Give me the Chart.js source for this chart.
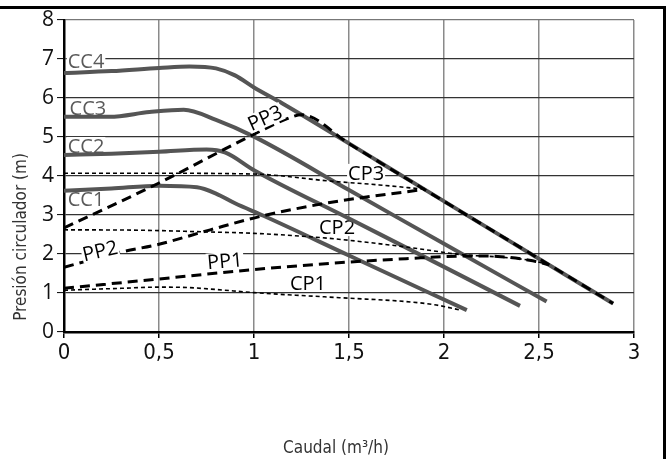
<!DOCTYPE html>
<html>
<head>
<meta charset="utf-8">
<script src="https://cdn.jsdelivr.net/npm/chart.js@4.4.1/dist/chart.umd.min.js"></script>
<style>
  html, body { margin: 0; padding: 0; background: #fff; overflow: hidden; }
  #wrap { position: relative; width: 671px; height: 459px; }
  #frame { position: absolute; left: -5px; top: 6px; width: 671px; height: 470px;
           box-sizing: border-box; border-top: 3px solid #000; border-right: 3px solid #000; pointer-events: none; }
  canvas { position: absolute; left: 0; top: 0; }
</style>
</head>
<body>
<div id="wrap">
  <canvas id="c" width="671" height="459"></canvas>
  <div id="frame"></div>
</div>
<script>
// ---- data (caudal m3/h, presión m) ----
const xTicks = [0, 0.5, 1, 1.5, 2, 2.5, 3];
const yTicks = [0, 1, 2, 3, 4, 5, 6, 7, 8];

const cc4X = [0, 0.25, 0.5, 0.66, 0.8, 0.9, 1.0, 1.15, 1.66, 2.2, 2.89];
const cc4Y = [6.64, 6.69, 6.77, 6.81, 6.76, 6.58, 6.27, 5.86, 4.36, 2.76, 0.73];
const cc3X = [0, 0.24, 0.45, 0.63, 0.8, 1.0, 1.5, 2.0, 2.54];
const cc3Y = [5.52, 5.52, 5.64, 5.70, 5.44, 5.01, 3.64, 2.26, 0.78];
const cc2X = [0, 0.25, 0.5, 0.75, 0.85, 1.0, 1.5, 2.0, 2.4];
const cc2Y = [4.54, 4.57, 4.62, 4.68, 4.60, 4.15, 2.91, 1.67, 0.67];
const cc1X = [0, 0.25, 0.5, 0.7, 0.8, 0.9, 1.05, 1.5, 2.12];
const cc1Y = [3.62, 3.68, 3.75, 3.71, 3.55, 3.30, 2.98, 1.96, 0.56];

const pp3X = [0, 0.5, 1.0, 1.19, 1.25, 1.5, 2.0, 2.5, 2.89];
const pp3Y = [2.67, 3.82, 5.07, 5.50, 5.57, 4.83, 3.35, 1.88, 0.73];
const pp2X = [0, 0.3, 0.5, 0.77, 1.03, 1.4, 1.9];
const pp2Y = [1.66, 2.05, 2.25, 2.62, 2.96, 3.32, 3.66];
const pp1X = [0, 0.5, 1.0, 1.4, 1.8, 2.14, 2.3, 2.45, 2.55];
const pp1Y = [1.12, 1.36, 1.60, 1.76, 1.88, 1.95, 1.93, 1.84, 1.73];

const cp3X = [0, 0.5, 1.0, 1.4, 1.66, 1.9];
const cp3Y = [4.07, 4.07, 4.05, 3.87, 3.77, 3.66];
const cp2X = [0, 0.4, 0.72, 1.0, 1.24, 1.4, 1.8, 2.1, 2.3, 2.45, 2.55];
const cp2Y = [2.62, 2.61, 2.57, 2.53, 2.46, 2.40, 2.18, 1.98, 1.92, 1.84, 1.73];
const cp1X = [0, 0.3, 0.5, 0.65, 0.8, 1.0, 1.45, 1.8, 1.95, 2.08];
const cp1Y = [1.07, 1.12, 1.15, 1.14, 1.09, 1.01, 0.88, 0.78, 0.70, 0.57];

const seriesNames = ['CC4', 'CC3', 'CC2', 'CC1', 'PP3', 'PP2', 'PP1', 'CP3', 'CP2', 'CP1'];
const xTitle = 'Caudal (m³/h)';
const yTitle = 'Presión circulador (m)';

// ---- helpers ----
const pts = (xs, ys) => xs.map((x, i) => ({ x: x, y: ys[i] }));
const ccStyle = { borderColor: '#555555', borderWidth: 4, borderCapStyle: 'butt', order: 3 };
const ppStyle = { borderColor: '#000000', borderWidth: 3, borderDash: [10, 6], order: 1 };
const cpStyle = { borderColor: '#000000', borderWidth: 1.6, borderDash: [4, 3], order: 2 };

const sets = [
  [cc4X, cc4Y, ccStyle], [cc3X, cc3Y, ccStyle], [cc2X, cc2Y, ccStyle], [cc1X, cc1Y, ccStyle],
  [pp3X, pp3Y, ppStyle], [pp2X, pp2Y, ppStyle], [pp1X, pp1Y, ppStyle],
  [cp3X, cp3Y, cpStyle], [cp2X, cp2Y, cpStyle], [cp1X, cp1Y, cpStyle]
];

const datasets = sets.map((s, i) => Object.assign({
  label: seriesNames[i],
  data: pts(s[0], s[1]),
  showLine: true,
  pointRadius: 0,
  fill: false,
  cubicInterpolationMode: 'monotone'
}, s[2]));

// label placement (data coords) and angle
const labelPlaces = [
  { x: 0.116, y: 6.95, a: 0, color: '#5a5a5a', layer: 'before' },
  { x: 0.126, y: 5.74, a: 0, color: '#5a5a5a', layer: 'before' },
  { x: 0.116, y: 4.77, a: 0, color: '#5a5a5a', layer: 'before' },
  { x: 0.116, y: 3.41, a: 0, color: '#5a5a5a', layer: 'before' },
  { x: 1.058, y: 5.49, a: -24, color: '#000', layer: 'after' },
  { x: 0.19, y: 2.08, a: -13, color: '#000', layer: 'after' },
  { x: 0.847, y: 1.82, a: -5, color: '#000', layer: 'after' },
  { x: 1.59, y: 4.08, a: 0, color: '#000', layer: 'before' },
  { x: 1.437, y: 2.69, a: 0, color: '#000', layer: 'before' },
  { x: 1.284, y: 1.26, a: 0, color: '#000', layer: 'before' }
];

function drawLabels(chart, layer) {
  const ctx = chart.ctx;
  const xs = chart.scales.x, ys = chart.scales.y;
  ctx.save();
  ctx.font = '20px "Open Sans", "DejaVu Sans", sans-serif';
  ctx.textAlign = 'center';
  ctx.textBaseline = 'middle';
  labelPlaces.forEach((p, i) => {
    if (p.layer !== layer) return;
    const px = xs.getPixelForValue(p.x), py = ys.getPixelForValue(p.y);
    const w = ctx.measureText(seriesNames[i]).width;
    ctx.save();
    ctx.translate(px, py);
    ctx.rotate(p.a * Math.PI / 180);
    ctx.fillStyle = '#fff';
    ctx.fillRect(-w / 2 - 1, -9, w + 2, 18);
    ctx.fillStyle = p.color;
    ctx.fillText(seriesNames[i], 0, 1);
    ctx.restore();
  });
  ctx.restore();
}

const labelPlugin = {
  id: 'curveLabels',
  beforeDatasetsDraw(chart) { drawLabels(chart, 'before'); },
  afterDatasetsDraw(chart) { drawLabels(chart, 'after'); },
  afterDraw(chart) {
    const ctx = chart.ctx;
    const ca = chart.chartArea;
    ctx.save();
    ctx.fillStyle = '#333';
    ctx.font = '17px "Liberation Sans Narrow", "DejaVu Sans Condensed", sans-serif';
    ctx.textAlign = 'center';
    ctx.textBaseline = 'middle';
    ctx.fillText(xTitle, 336, 449);
    ctx.translate(22, 237);
    ctx.rotate(-Math.PI / 2);
    ctx.fillText(yTitle, 0, 0);
    ctx.restore();
  }
};

new Chart(document.getElementById('c'), {
  type: 'scatter',
  data: { datasets: datasets },
  options: {
    responsive: false,
    devicePixelRatio: 1,
    animation: false,
    layout: { padding: { top: 20, right: 37, left: 0, bottom: 0 } },
    plugins: { legend: { display: false }, tooltip: { enabled: false } },
    scales: {
      x: {
        type: 'linear', min: 0, max: 3,
        afterFit(s) { s.height = 127; },
        afterBuildTicks(s) { s.ticks = xTicks.map(v => ({ value: v })); },
        ticks: {
          color: '#111', padding: 2,
          font: { family: '"Liberation Sans Narrow", "DejaVu Sans Condensed", sans-serif', size: 22 },
          callback: v => String(v).replace('.', ',')
        },
        grid: { color: '#8a8a8a', lineWidth: 1.5, tickColor: '#000', tickLength: 6, tickWidth: 1.5 },
        border: { color: '#000', width: 2.5 }
      },
      y: {
        type: 'linear', min: 0, max: 8,
        afterFit(s) { s.width = 64; },
        afterBuildTicks(s) { s.ticks = yTicks.map(v => ({ value: v })); },
        ticks: {
          color: '#111', padding: 3,
          font: { family: '"Open Sans", "DejaVu Sans", sans-serif', size: 21 }
        },
        grid: {
          color: ctx => ctx.tick && ctx.tick.value === 8 ? '#777' : '#333',
          lineWidth: 1.2, tickColor: '#000', tickLength: 7, tickWidth: 1
        },
        border: { color: '#000', width: 2.5 }
      }
    }
  },
  plugins: [labelPlugin]
});
</script>
</body>
</html>
